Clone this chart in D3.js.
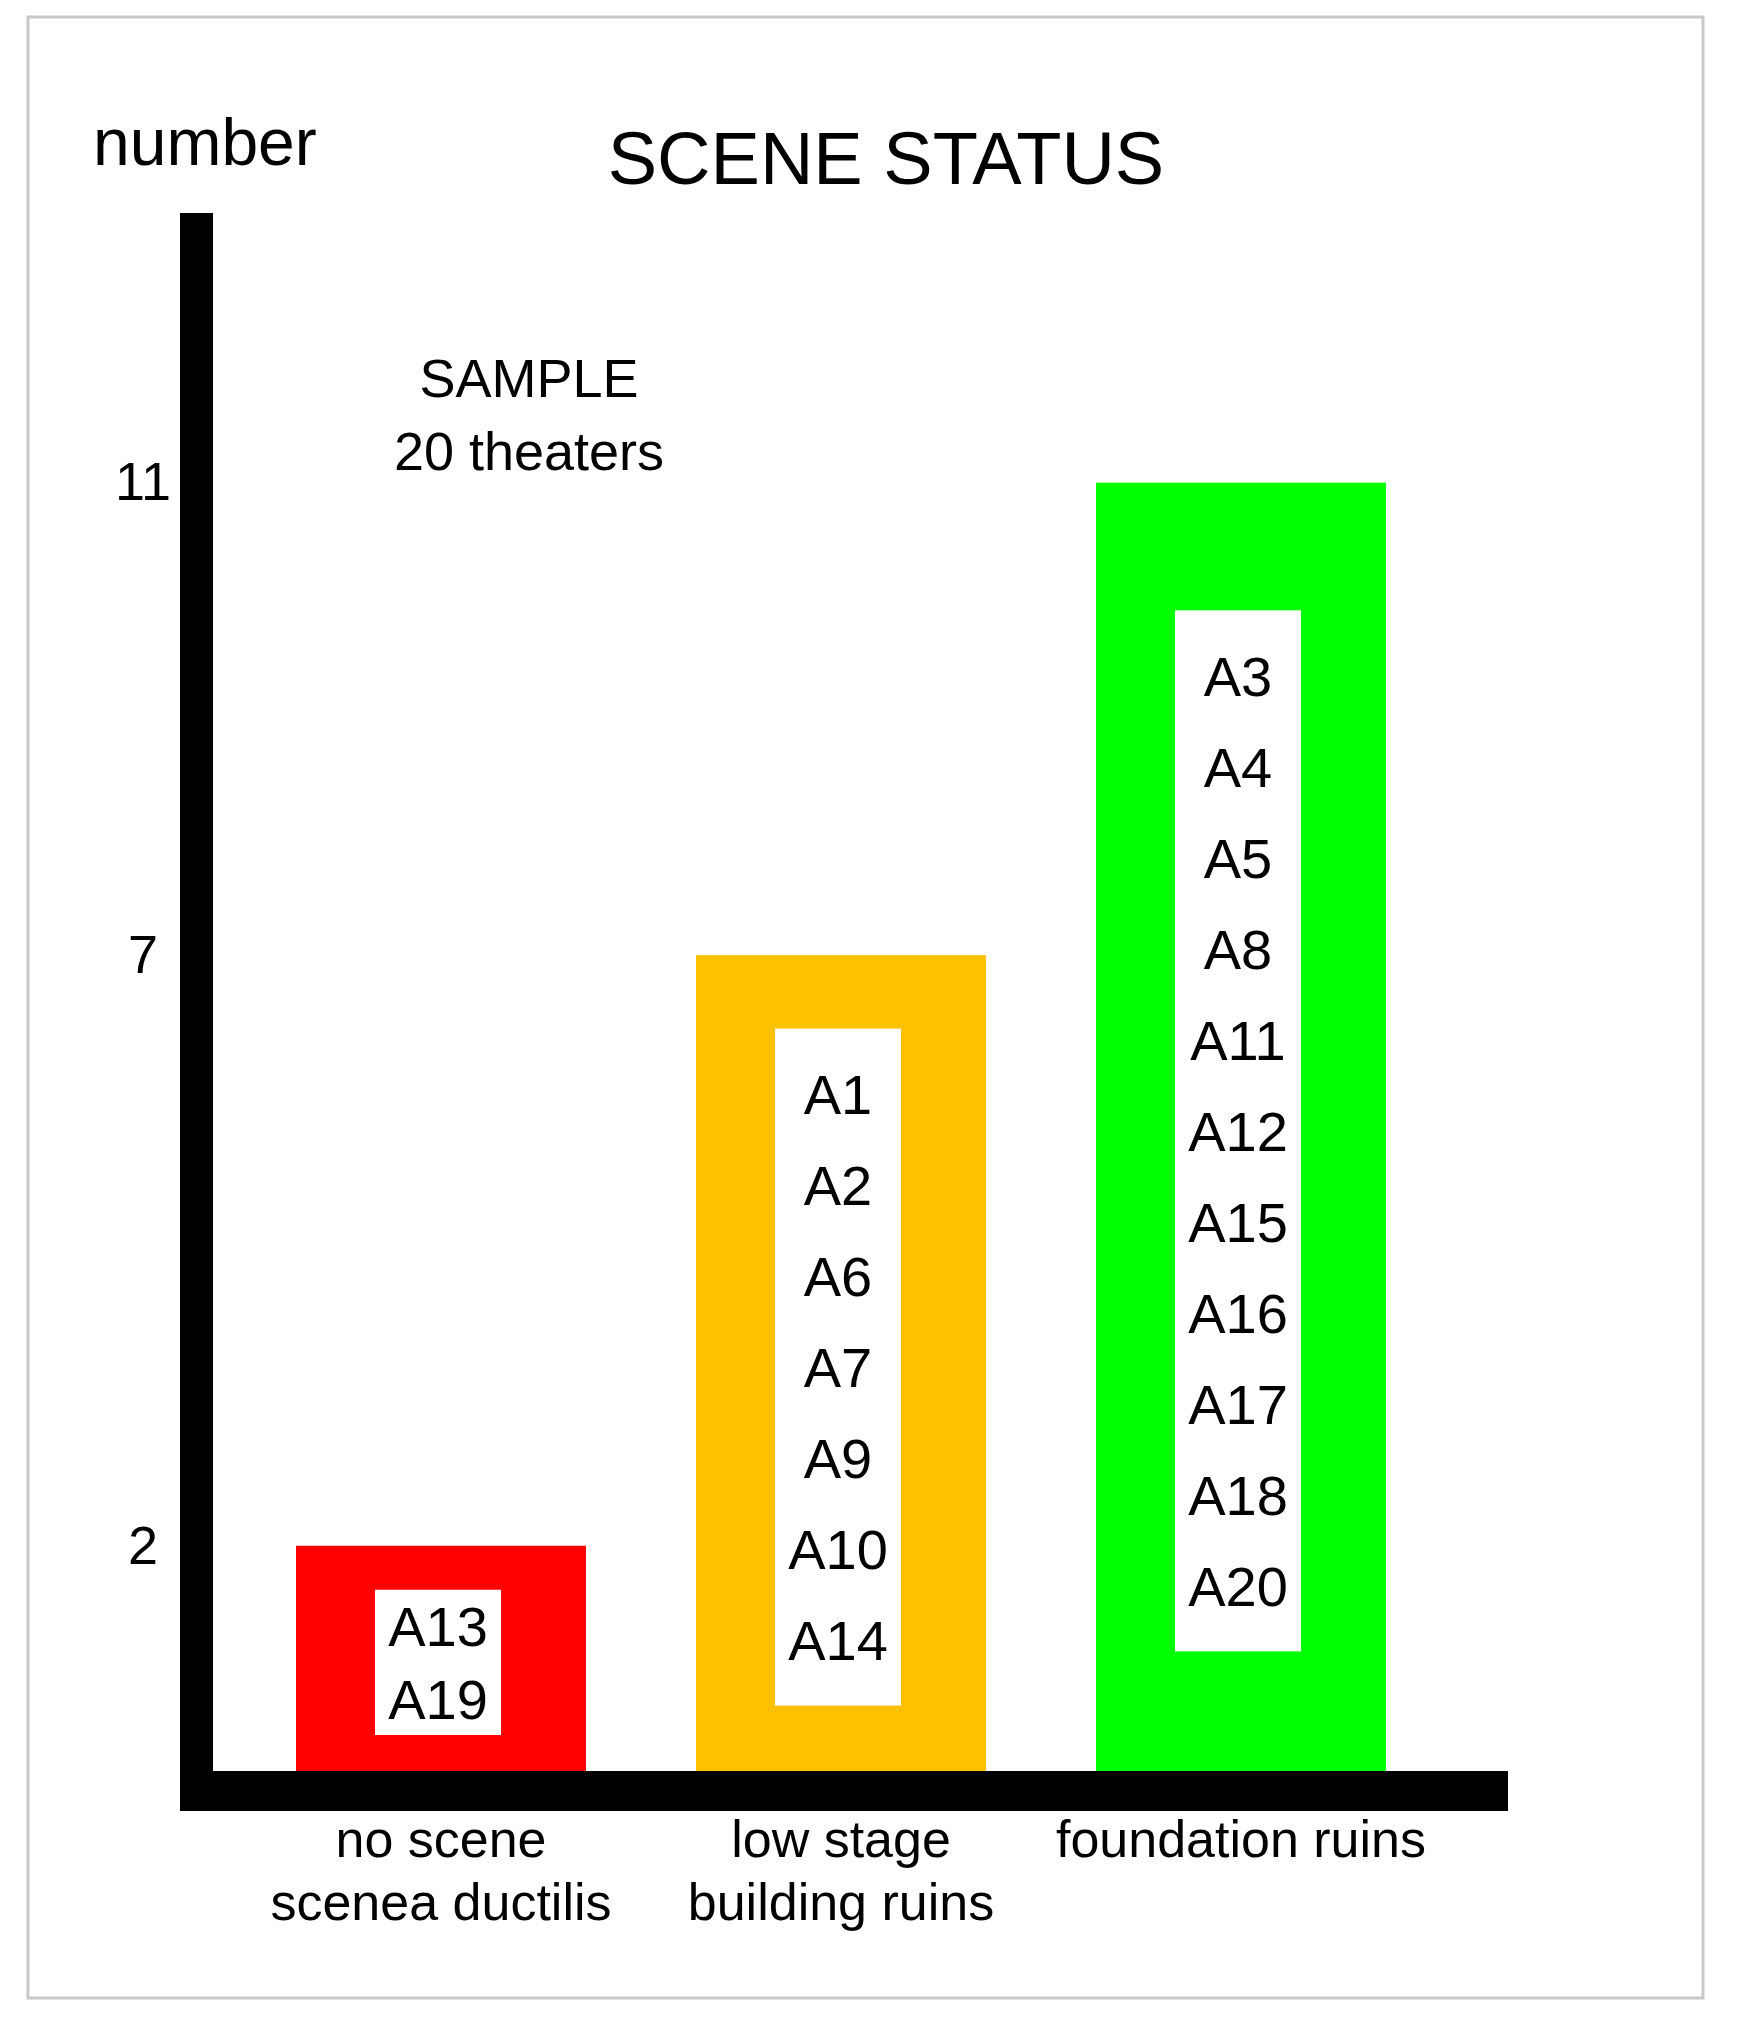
<!DOCTYPE html>
<html>
<head>
<meta charset="utf-8">
<script src="https://cdn.jsdelivr.net/npm/d3@7"></script>
<style>
  body { margin: 0; background: #fff; }
  text { font-family: "Liberation Sans", Arial, sans-serif; fill: #000; }
</style>
</head>
<body>
<div id="chart"></div>
<script>
// chart data
const CATEGORIES = ["no scene", "low stage", "foundation ruins"];
const CATEGORY_LINES = [["no scene", "scenea ductilis"], ["low stage", "building ruins"], ["foundation ruins"]];
const COUNTS = [2, 7, 11];
const THEATERS = [
  ["A13", "A19"],
  ["A1", "A2", "A6", "A7", "A9", "A10", "A14"],
  ["A3", "A4", "A5", "A8", "A11", "A12", "A15", "A16", "A17", "A18", "A20"]
];
const Y_TICKS = [2, 7, 11];
const BAR_COLORS = ["#ff0000", "#ffc000", "#00ff00"];

const FRAME_HEIGHT = 2020;
const FRAME_WIDTH = 1740;
const AXIS_X = 180;      // left edge of the thick y axis
const AXIS_W = 33;
const AXIS_TOP = 213;
const BASE_Y = 1771;     // top of the thick x axis
const BASE_H = 40;
const AXIS_RIGHT = 1508;
const Y_TOP_VALUE = 13.3;

const data = CATEGORIES.map((c, i) => ({
  cat: c, lines: CATEGORY_LINES[i], n: COUNTS[i], ids: THEATERS[i], color: BAR_COLORS[i]
}));

const SVG = d3.select("#chart")
  .append("svg")
    .attr("width", FRAME_WIDTH)
    .attr("height", FRAME_HEIGHT);

// light grey frame round the picture
SVG.append("rect")
  .attr("x", 28).attr("y", 17)
  .attr("width", 1675).attr("height", 1981)
  .attr("fill", "none")
  .attr("stroke", "#c8c8c8")
  .attr("stroke-width", 3);

const X_SCALE = d3.scaleBand()
  .domain(CATEGORIES)
  .range([196, 1486])
  .paddingInner(0.275)
  .paddingOuter(0.25);

const Y_SCALE = d3.scaleLinear()
  .domain([0, Y_TOP_VALUE])
  .range([1782, 211]);

// bars
SVG.append("g")
  .selectAll("rect")
  .data(data)
  .enter()
  .append("rect")
    .attr("x", (d) => X_SCALE(d.cat))
    .attr("y", (d) => Y_SCALE(d.n))
    .attr("width", X_SCALE.bandwidth())
    .attr("height", (d) => Y_SCALE(0) - Y_SCALE(d.n))
    .attr("fill", (d) => d.color);

// white boxes with theater ids
data.forEach((d) => {
  const top = Y_SCALE(d.n);
  const visH = BASE_Y - top;
  const lineH = Math.min(91, (visH - 80) / d.ids.length);
  const pad = lineH >= 91 ? 20 : 0;
  const boxH = d.ids.length * lineH + 2 * pad;
  const cy = (top + BASE_Y) / 2 + 4;
  const boxTop = cy - boxH / 2;
  const cx = X_SCALE(d.cat) + X_SCALE.bandwidth() / 2;

  const g = SVG.append("g");
  g.append("rect")
    .attr("x", cx - 66)
    .attr("y", boxTop)
    .attr("width", 126)
    .attr("height", boxH)
    .attr("fill", "#fff");

  g.selectAll("text")
    .data(d.ids)
    .enter()
    .append("text")
      .attr("x", cx - 3)
      .attr("y", (t, i) => boxTop + pad + lineH * (i + 0.5))
      .attr("dy", "0.36em")
      .attr("text-anchor", "middle")
      .attr("font-size", "56px")
      .text((t) => t);
});

// thick axes
SVG.append("rect")
  .attr("x", AXIS_X).attr("y", AXIS_TOP)
  .attr("width", AXIS_W).attr("height", BASE_Y + BASE_H - AXIS_TOP)
  .attr("fill", "#000");
SVG.append("rect")
  .attr("x", AXIS_X).attr("y", BASE_Y)
  .attr("width", AXIS_RIGHT - AXIS_X).attr("height", BASE_H)
  .attr("fill", "#000");

// y tick labels, centred left of the axis
const yAxis = SVG.append("g")
  .attr("transform", "translate(" + AXIS_X + ",0)")
  .call(d3.axisLeft(Y_SCALE).tickValues(Y_TICKS).tickSize(0).tickPadding(37));
yAxis.select(".domain").remove();
yAxis.selectAll("text")
  .attr("text-anchor", "middle")
  .attr("font-size", "54px")
  .attr("font-family", "'Liberation Sans', Arial, sans-serif")
  .attr("fill", "#000");

// category labels under the axis
data.forEach((d) => {
  const cx = X_SCALE(d.cat) + X_SCALE.bandwidth() / 2;
  SVG.append("g")
    .selectAll("text")
    .data(d.lines)
    .enter()
    .append("text")
      .attr("x", cx)
      .attr("y", (t, i) => 1857 + i * 63)
      .attr("text-anchor", "middle")
      .attr("font-size", "52px")
      .text((t) => t);
});

// titles
SVG.append("text")
  .attr("x", 886).attr("y", 184)
  .attr("text-anchor", "middle")
  .attr("font-size", "74px")
  .text("SCENE STATUS");

SVG.append("text")
  .attr("x", 93).attr("y", 165)
  .attr("font-size", "66px")
  .text("number");

SVG.append("text")
  .attr("x", 529).attr("y", 397)
  .attr("text-anchor", "middle")
  .attr("font-size", "54px")
  .text("SAMPLE");

SVG.append("text")
  .attr("x", 529).attr("y", 470)
  .attr("text-anchor", "middle")
  .attr("font-size", "54px")
  .text("20 theaters");
</script>
</body>
</html>
